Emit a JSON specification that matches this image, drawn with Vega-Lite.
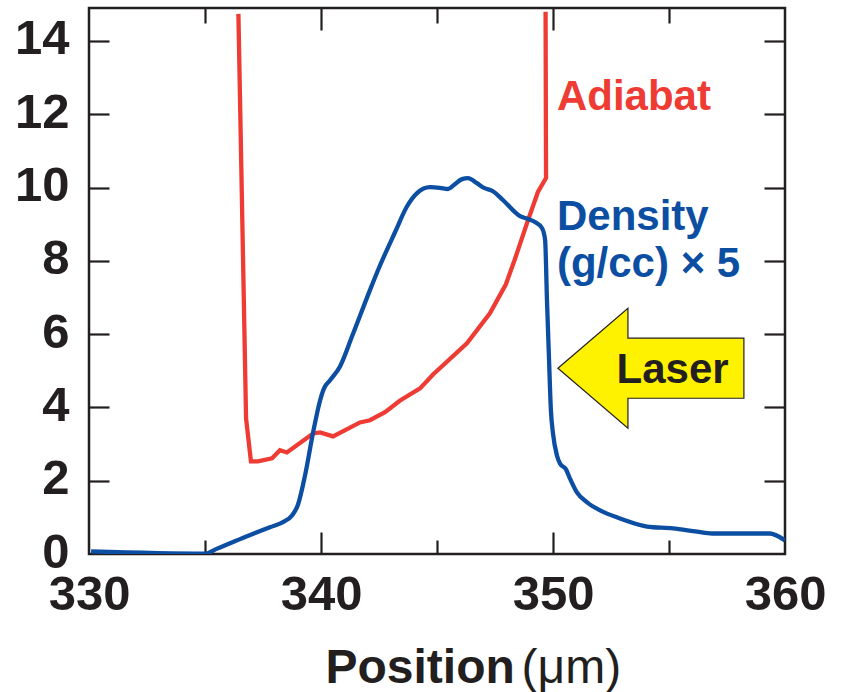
{
  "$schema": "https://vega.github.io/schema/vega-lite/v6.json",
  "width": 696,
  "height": 546,
  "autosize": {"type": "none"},
  "padding": {"left": 89, "top": 8, "right": 63, "bottom": 138},
  "background": "white",
  "config": {
    "view": {"stroke": "#231f20", "strokeWidth": 2.5},
    "font": "Liberation Sans",
    "axis": {"labelFont": "Liberation Sans", "titleFont": "Liberation Sans", "labelColor": "#231f20", "titleColor": "#231f20", "tickColor": "#231f20", "tickWidth": 2.2, "grid": false}
  },
  "datasets": {
    "adiabat": [
      {"i": 0, "x": 336.44, "y": 14.74},
      {"i": 1, "x": 336.77, "y": 3.70},
      {"i": 2, "x": 336.98, "y": 2.53},
      {"i": 3, "x": 337.28, "y": 2.53},
      {"i": 4, "x": 337.89, "y": 2.61},
      {"i": 5, "x": 338.23, "y": 2.83},
      {"i": 6, "x": 338.53, "y": 2.77},
      {"i": 7, "x": 339.66, "y": 3.29},
      {"i": 8, "x": 339.96, "y": 3.32},
      {"i": 9, "x": 340.52, "y": 3.21},
      {"i": 10, "x": 341.68, "y": 3.59},
      {"i": 11, "x": 342.11, "y": 3.65},
      {"i": 12, "x": 342.76, "y": 3.87},
      {"i": 13, "x": 343.41, "y": 4.19},
      {"i": 14, "x": 344.27, "y": 4.52},
      {"i": 15, "x": 344.83, "y": 4.90},
      {"i": 16, "x": 346.29, "y": 5.75},
      {"i": 17, "x": 347.28, "y": 6.57},
      {"i": 18, "x": 347.97, "y": 7.36},
      {"i": 19, "x": 348.36, "y": 8.05},
      {"i": 20, "x": 348.88, "y": 9.03},
      {"i": 21, "x": 349.35, "y": 9.88},
      {"i": 22, "x": 349.70, "y": 10.26},
      {"i": 23, "x": 349.68, "y": 14.80}
    ],
    "density": [
      {"x": 330.09, "y": 0.07},
      {"x": 335.0, "y": 0.01},
      {"x": 335.5, "y": 0.14},
      {"x": 336.0, "y": 0.27},
      {"x": 336.6, "y": 0.43},
      {"x": 337.16, "y": 0.57},
      {"x": 337.8, "y": 0.73},
      {"x": 338.36, "y": 0.87},
      {"x": 338.75, "y": 1.05},
      {"x": 339.01, "y": 1.35},
      {"x": 339.31, "y": 2.14},
      {"x": 339.66, "y": 3.32},
      {"x": 339.96, "y": 4.19},
      {"x": 340.13, "y": 4.52},
      {"x": 340.39, "y": 4.74},
      {"x": 340.82, "y": 5.12},
      {"x": 341.34, "y": 5.94},
      {"x": 342.11, "y": 7.20},
      {"x": 342.46, "y": 7.75},
      {"x": 343.19, "y": 8.78},
      {"x": 343.71, "y": 9.49},
      {"x": 344.14, "y": 9.85},
      {"x": 344.70, "y": 10.01},
      {"x": 345.13, "y": 9.99},
      {"x": 345.47, "y": 9.96},
      {"x": 345.73, "y": 10.07},
      {"x": 346.08, "y": 10.23},
      {"x": 346.34, "y": 10.26},
      {"x": 346.72, "y": 10.12},
      {"x": 347.03, "y": 9.99},
      {"x": 347.41, "y": 9.90},
      {"x": 347.84, "y": 9.66},
      {"x": 348.58, "y": 9.22},
      {"x": 348.92, "y": 9.14},
      {"x": 349.22, "y": 9.06},
      {"x": 349.53, "y": 8.89},
      {"x": 349.66, "y": 8.57},
      {"x": 349.74, "y": 6.93},
      {"x": 349.83, "y": 5.29},
      {"x": 349.91, "y": 3.92},
      {"x": 350.0, "y": 3.29},
      {"x": 350.17, "y": 2.69},
      {"x": 350.30, "y": 2.47},
      {"x": 350.56, "y": 2.31},
      {"x": 350.73, "y": 2.06},
      {"x": 351.03, "y": 1.68},
      {"x": 351.47, "y": 1.41},
      {"x": 352.03, "y": 1.19},
      {"x": 352.89, "y": 0.97},
      {"x": 354.05, "y": 0.75},
      {"x": 355.17, "y": 0.70},
      {"x": 356.21, "y": 0.61},
      {"x": 356.85, "y": 0.56},
      {"x": 359.35, "y": 0.56},
      {"x": 360.0, "y": 0.37}
    ],
    "arrow": [
      {"x": 354.22, "y": 5.07}
    ],
    "labels": [
      {"text": "Adiabat", "x": 350.17, "y": 12.12, "series": "Adiabat"},
      {"text": "Density", "x": 350.17, "y": 8.84, "series": "Density"},
      {"text": "(g/cc) × 5", "x": 350.17, "y": 7.55, "series": "Density"},
      {"text": "Laser", "x": 352.74, "y": 4.66, "series": "Laser"}
    ]
  },
  "resolve": {"axis": {"x": "independent", "y": "independent"}},
  "layer": [
    {
      "data": {"name": "adiabat"},
      "mark": {"type": "line", "color": "#ee3b33", "strokeWidth": 4.3, "clip": true},
      "encoding": {
        "x": {"field": "x", "type": "quantitative", "scale": {"domain": [330, 360], "nice": false, "zero": false},
          "axis": {"orient": "bottom", "values": [330, 340, 350, 360], "ticks": false, "domain": false, "labelFontSize": 49, "labelFontWeight": "bold", "labelPadding": 16, "labelFlush": false,
            "title": "Position", "titleFontSize": 48, "titleFontWeight": "bold", "titleAlign": "left", "titleX": 236, "titleY": 128, "titleBaseline": "alphabetic"}},
        "y": {"field": "y", "type": "quantitative", "scale": {"domain": [0, 14.9], "nice": false},
          "axis": {"orient": "left", "values": [0, 2, 4, 6, 8, 10, 12, 14], "ticks": false, "domain": false, "labelFontSize": 49, "labelFontWeight": "bold", "labelPadding": 20, "labelOffset": -2, "labelFlush": false, "labelBaseline": "middle", "title": null}},
        "order": {"field": "i", "type": "quantitative"}
      }
    },
    {
      "data": {"name": "density"},
      "mark": {"type": "line", "color": "#0b4ea2", "strokeWidth": 4.3, "interpolate": "monotone", "clip": true},
      "encoding": {
        "x": {"field": "x", "type": "quantitative",
          "axis": {"orient": "bottom", "values": [335, 340, 345, 350, 355], "labels": false, "domain": false, "ticks": true,
            "tickSize": {"condition": {"test": "datum.value % 10 === 0", "value": -22}, "value": -14},
            "title": "(μm)", "titleFontSize": 48, "titleFontWeight": "normal", "titleAlign": "left", "titleX": 432, "titleY": 128, "titleBaseline": "alphabetic"}},
        "y": {"field": "y", "type": "quantitative",
          "axis": {"orient": "left", "values": [2, 4, 6, 8, 10, 12, 14], "labels": false, "domain": false, "ticks": true, "tickSize": -20, "title": null}}
      }
    },
    {
      "data": {"name": "arrow"},
      "mark": {"type": "point", "shape": "M-1,0 L-0.247,-0.645 L-0.247,-0.323 L1,-0.323 L1,0.323 L-0.247,0.323 L-0.247,0.645 Z", "size": 34596, "filled": true, "fill": "#fff200", "stroke": "#231f20", "strokeWidth": 1.2, "opacity": 1},
      "encoding": {
        "x": {"field": "x", "type": "quantitative",
          "axis": {"orient": "top", "values": [335, 340, 345, 350, 355], "labels": false, "domain": false, "ticks": true,
            "tickSize": {"condition": {"test": "datum.value % 10 === 0", "value": -22}, "value": -15}, "title": null}},
        "y": {"field": "y", "type": "quantitative",
          "axis": {"orient": "right", "values": [2, 4, 6, 8, 10, 12, 14], "labels": false, "domain": false, "ticks": true, "tickSize": -21, "title": null}}
      }
    },
    {
      "data": {"name": "labels"},
      "mark": {"type": "text", "align": "left", "baseline": "alphabetic", "fontSize": 42, "fontWeight": "bold", "font": "Liberation Sans"},
      "encoding": {
        "x": {"field": "x", "type": "quantitative", "axis": null},
        "y": {"field": "y", "type": "quantitative", "axis": null},
        "text": {"field": "text", "type": "nominal"},
        "color": {"field": "series", "type": "nominal", "scale": {"domain": ["Adiabat", "Density", "Laser"], "range": ["#ee3b33", "#0b4ea2", "#231f20"]}, "legend": null}
      }
    }
  ]
}
